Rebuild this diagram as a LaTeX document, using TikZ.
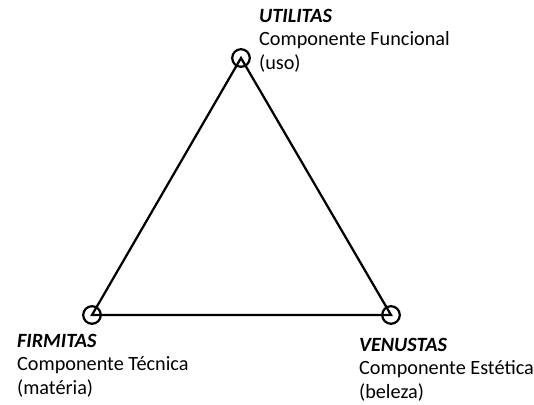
\documentclass[tikz,border=0pt]{standalone}
\usepackage{fontspec}
\setmainfont{Carlito}
\usepackage{tikz}

\begin{document}
\begin{tikzpicture}[line width = 1.6pt,
                        empty/.style = {circle, draw, fill = none, minimum size = 0.44cm, inner sep = 0pt},
                        label/.style = {anchor = north west, inner sep = 0pt, align = left,
                                        font = \fontsize{14.4}{16.7}\selectfont}]
      \useasboundingbox (0, 0) rectangle (13.35, 10.125);
      \node [empty] (u) at (6.025, 8.675){};
      \node [empty] (f) at (2.3, 2.25){};
      \node [empty] (v) at (9.775, 2.25){};
      \draw (u.center) -- (f.center) -- (v.center) -- cycle;
      \node [label] (tu) at (6.45, 9.925){\textbf{\textit{UTILITAS}}\\Componente Funcional\\(uso)};
      \node [label] (tf) at (0.4, 1.8){\textbf{\textit{FIRMITAS}}\\Componente Técnica\\(matéria)};
      \node [label] (tv) at (8.95, 1.7){\textbf{\textit{VENUSTAS}}\\Componente Estética\\(beleza)};
    \end{tikzpicture}
\end{document}
